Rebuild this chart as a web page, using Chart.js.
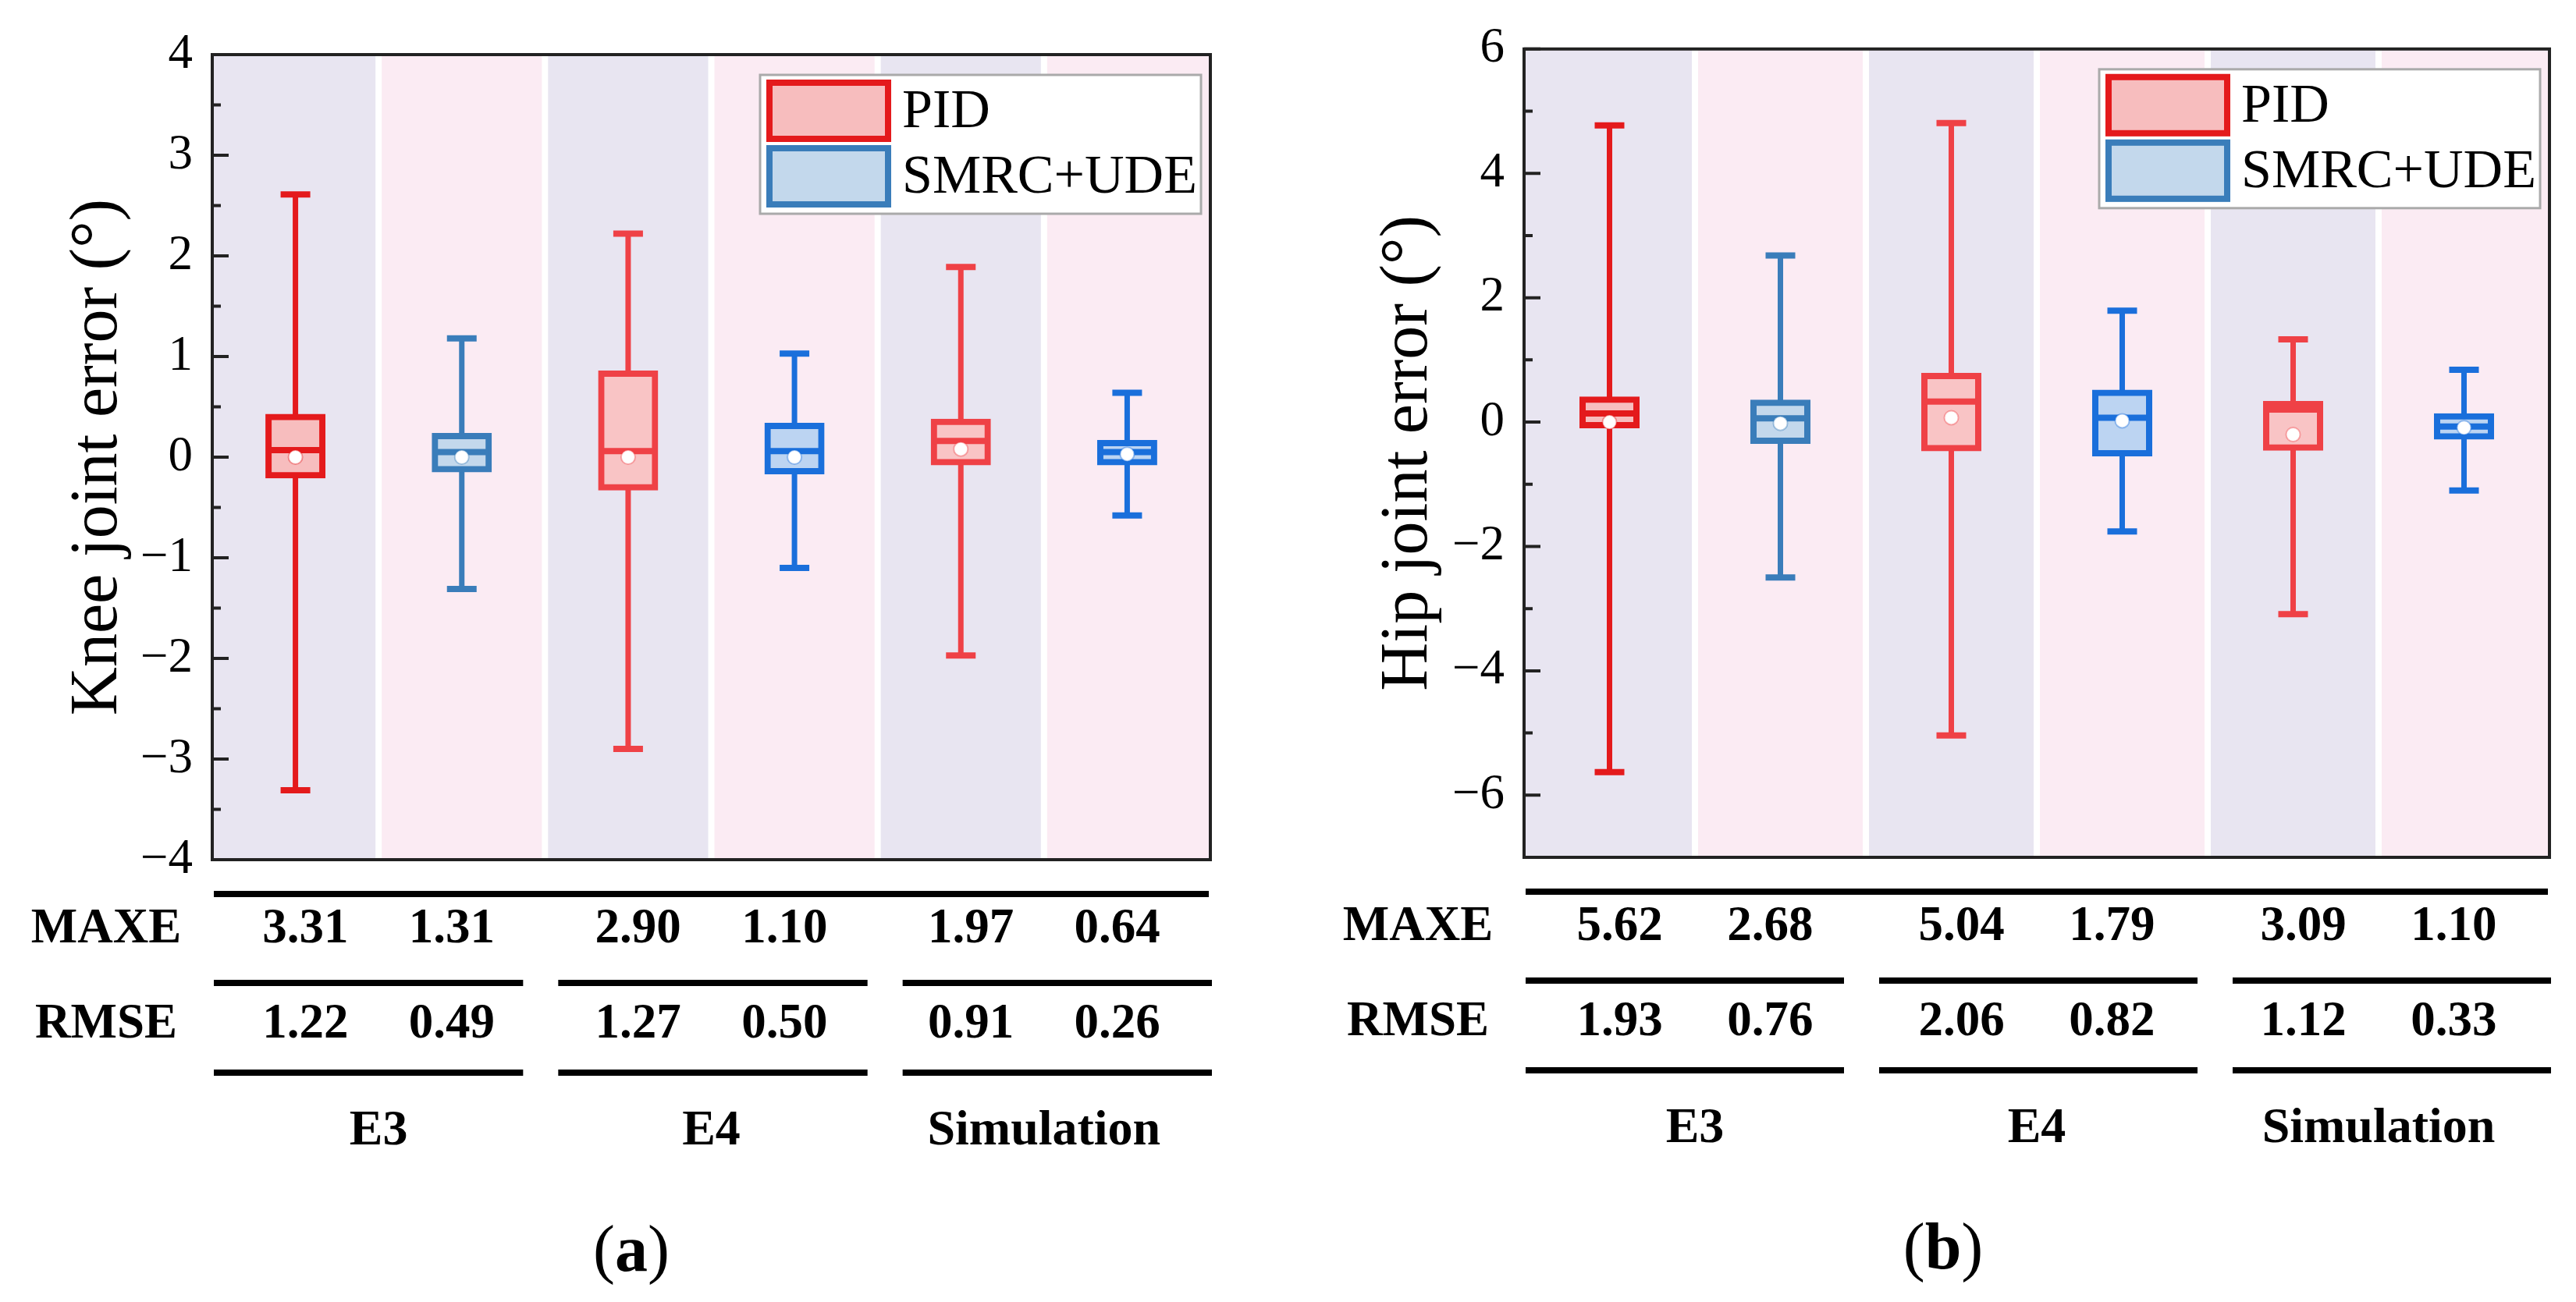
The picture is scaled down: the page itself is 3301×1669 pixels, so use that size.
<!DOCTYPE html>
<html>
<head>
<meta charset="utf-8">
<title>Knee and hip joint error</title>
<script src="https://cdn.jsdelivr.net/npm/chart.js@4.4.1/dist/chart.umd.min.js"></script>
<style>
  html, body { margin: 0; padding: 0; background: #fff; }
  #wrap { position: relative; width: 3301px; height: 1669px; }
  canvas { position: absolute; top: 0; }
</style>
</head>
<body>
<div id="wrap">
  <canvas id="kneeChart" width="1650" height="1669" style="left:0;width:1650px;height:1669px"></canvas>
  <canvas id="hipChart" width="1651" height="1669" style="left:1650px;width:1651px;height:1669px"></canvas>
</div>
<script>
// categories: PID / SMRC+UDE for each experiment
const groups = ['E3', 'E4', 'Simulation'];
const methods = ['PID', 'SMRC+UDE'];
const categories = ['E3 PID', 'E3 SMRC+UDE', 'E4 PID', 'E4 SMRC+UDE', 'Simulation PID', 'Simulation SMRC+UDE'];

// knee joint error (deg)
const kneeMin    = [-3.31, -1.31, -2.90, -1.10, -1.97, -0.58];
const kneeQ1     = [-0.18, -0.12, -0.30, -0.14, -0.05, -0.05];
const kneeMedian = [ 0.07,  0.05,  0.06,  0.06,  0.16,  0.05];
const kneeQ3     = [ 0.40,  0.21,  0.83,  0.31,  0.35,  0.14];
const kneeMax    = [ 2.61,  1.18,  2.22,  1.03,  1.89,  0.64];
const kneeMean   = [ 0.00,  0.00,  0.00,  0.00,  0.08,  0.03];
const kneeMaxe   = ['3.31', '1.31', '2.90', '1.10', '1.97', '0.64'];
const kneeRmse   = ['1.22', '0.49', '1.27', '0.50', '0.91', '0.26'];

// hip joint error (deg)
const hipMin    = [-5.63, -2.50, -5.04, -1.76, -3.09, -1.10];
const hipQ1     = [-0.05, -0.30, -0.42, -0.50, -0.41, -0.23];
const hipMedian = [ 0.14,  0.06,  0.33,  0.07,  0.20, -0.07];
const hipQ3     = [ 0.36,  0.31,  0.74,  0.47,  0.29,  0.09];
const hipMax    = [ 4.77,  2.68,  4.81,  1.79,  1.33,  0.84];
const hipMean   = [ 0.00, -0.02,  0.07,  0.02, -0.20, -0.09];
const hipMaxe   = ['5.62', '2.68', '5.04', '1.79', '3.09', '1.10'];
const hipRmse   = ['1.93', '0.76', '2.06', '0.82', '1.12', '0.33'];

const strokes = ['#e41a1c', '#3a7dba', '#ef4146', '#1a6fdb', '#ef4146', '#1a6fdb'];
const fills   = ['#f7bdbe', '#c3d8ec', '#f9c4c5', '#bcd4f2', '#f9c4c5', '#bcd4f2'];
const legendStroke = ['#e41a1c', '#3a7dba'];
const legendFill   = ['#f7bdbe', '#c3d8ec'];

const SERIF = '"Liberation Serif", "Times New Roman", serif';
Chart.defaults.font.family = SERIF;
Chart.defaults.color = '#000';

function minus(v) {
  return v < 0 ? '\u2212' + Math.abs(v) : String(v);
}

function makeDecor(p) {
  return {
    id: 'boxDecor',
    beforeDatasetsDraw(chart) {
      const { ctx, chartArea: a, scales: { x, y } } = chart;
      const cw = x.getPixelForValue(1) - x.getPixelForValue(0);
      ctx.save();
      // alternating background bands
      categories.forEach((c, i) => {
        const cx = x.getPixelForValue(i);
        let l = cx - cw / 2 + 4, r = cx + cw / 2 - 4;
        if (i === 0) l = a.left;
        if (i === categories.length - 1) r = a.right;
        ctx.fillStyle = i % 2 ? '#fbebf3' : '#e8e5f1';
        ctx.fillRect(l, a.top, r - l, a.bottom - a.top);
      });
      // whiskers + caps
      p.lo.forEach((lo, i) => {
        const cx = x.getPixelForValue(i);
        const yl = y.getPixelForValue(lo), yh = y.getPixelForValue(p.hi[i]);
        ctx.strokeStyle = strokes[i];
        ctx.lineWidth = 7;
        ctx.beginPath();
        ctx.moveTo(cx, yl);
        ctx.lineTo(cx, yh);
        ctx.stroke();
        ctx.lineWidth = 8;
        ctx.beginPath();
        ctx.moveTo(cx - 19, yl); ctx.lineTo(cx + 19, yl);
        ctx.moveTo(cx - 19, yh); ctx.lineTo(cx + 19, yh);
        ctx.stroke();
      });
      ctx.restore();
    },
    afterDatasetDraw(chart, args) {
      if (args.meta.type !== 'bar') return;
      const { ctx, scales: { y } } = chart;
      const data = chart.data.datasets[args.index].data;
      ctx.save();
      args.meta.data.forEach((bar, i) => {
        if (!data[i]) return;
        const { x: bx, width } = bar.getProps(['x', 'width'], true);
        const ym = y.getPixelForValue(p.med[i]);
        ctx.strokeStyle = strokes[i];
        ctx.lineWidth = 8;
        ctx.beginPath();
        ctx.moveTo(bx - width / 2, ym);
        ctx.lineTo(bx + width / 2, ym);
        ctx.stroke();
      });
      ctx.restore();
    },
    afterDraw(chart) {
      const { ctx, chartArea: a, scales: { x, y } } = chart;
      const cw = x.getPixelForValue(1) - x.getPixelForValue(0);
      ctx.save();

      // frame
      ctx.strokeStyle = '#222';
      ctx.lineWidth = 4;
      ctx.strokeRect(a.left, a.top, a.right - a.left, a.bottom - a.top);

      // inward tick marks
      ctx.strokeStyle = '#222';
      ctx.beginPath();
      const n = Math.round((p.max - p.min) / p.minorStep);
      for (let k = 0; k <= n; k++) {
        const v = p.min + k * p.minorStep;
        const major = Math.abs(v / p.majorStep - Math.round(v / p.majorStep)) < 1e-6;
        const yy = y.getPixelForValue(v);
        ctx.moveTo(a.left, yy);
        ctx.lineTo(a.left + (major ? 21 : 11), yy);
      }
      ctx.stroke();

      // legend
      const lw = 565, lh = 178;
      const lx = a.right - 12 - lw, ly = a.top + 26;
      ctx.fillStyle = '#fff';
      ctx.fillRect(lx, ly, lw, lh);
      ctx.strokeStyle = '#aaa';
      ctx.lineWidth = 3;
      ctx.strokeRect(lx, ly, lw, lh);
      methods.forEach((m, k) => {
        const sx = lx + 8, sy = ly + 6 + k * 84, sw = 160, sh = 80;
        ctx.fillStyle = legendFill[k];
        ctx.fillRect(sx, sy, sw, sh);
        ctx.strokeStyle = legendStroke[k];
        ctx.lineWidth = 8;
        ctx.strokeRect(sx + 4, sy + 4, sw - 8, sh - 8);
        ctx.fillStyle = '#000';
        ctx.font = '70px ' + SERIF;
        ctx.textAlign = 'left';
        ctx.textBaseline = 'middle';
        ctx.fillText(m, lx + 182, sy + sh / 2 + 3);
      });

      // statistics table under the plot
      const b = a.bottom;
      ctx.fillStyle = '#000';
      ctx.fillRect(a.left + 2, b + 40, a.right - a.left - 4, 8);
      const gap = 45;
      const segW = (a.right - a.left - 2 * gap) / 3;
      [158, 273].forEach(dy => {
        groups.forEach((g, k) => {
          ctx.fillRect(a.left + 2 + k * (segW + gap), b + dy - 4, segW, 8);
        });
      });
      ctx.textAlign = 'center';
      ctx.textBaseline = 'middle';
      ctx.font = 'bold 63px ' + SERIF;
      const rows = [['MAXE', p.maxe, 90], ['RMSE', p.rmse, 212]];
      rows.forEach(([label, vals, dy]) => {
        ctx.fillText(label, a.left - 136, b + dy);
        vals.forEach((v, i) => {
          const pc = (x.getPixelForValue(i - (i % 2)) + x.getPixelForValue(i - (i % 2) + 1)) / 2;
          const vx = pc + (i % 2 ? 0.44 : -0.44) * cw;
          ctx.fillText(v, vx, b + dy);
        });
      });
      ctx.font = 'bold 64px ' + SERIF;
      groups.forEach((g, k) => {
        const pc = (x.getPixelForValue(2 * k) + x.getPixelForValue(2 * k + 1)) / 2;
        ctx.fillText(g, pc, b + 348);
      });

      // panel caption "(a)" with bold letter
      const capFont = '84px ' + SERIF, capBold = 'bold 84px ' + SERIF;
      ctx.font = capFont;
      const wp = ctx.measureText('(').width, wq = ctx.measureText(')').width;
      ctx.font = capBold;
      const wl = ctx.measureText(p.caption).width;
      let cx = a.left + 537 - (wp + wl + wq) / 2;
      ctx.textAlign = 'left';
      ctx.font = capFont;
      ctx.fillText('(', cx, b + 505);
      ctx.font = capBold;
      ctx.fillText(p.caption, cx + wp, b + 505);
      ctx.font = capFont;
      ctx.fillText(')', cx + wp + wl, b + 505);
      ctx.restore();
    }
  };
}

function renderBoxChart(id, p) {
  const ctx = document.getElementById(id).getContext('2d');
  const pidBoxes  = categories.map((c, i) => i % 2 === 0 ? [p.q1[i], p.q3[i]] : null);
  const smrcBoxes = categories.map((c, i) => i % 2 === 1 ? [p.q1[i], p.q3[i]] : null);
  // box outline centred on the quartile values (border grows 4px outward)
  const boxStyle = {
    backgroundColor: fills,
    borderColor: strokes,
    borderWidth: 8,
    borderSkipped: false,
    inflateAmount: 4,
    barThickness: 69,
    grouped: false,
    order: 1
  };
  return new Chart(ctx, {
    type: 'bar',
    data: {
      labels: categories,
      datasets: [
        {
          label: 'Mean',
          type: 'line',
          data: p.mean,
          showLine: false,
          pointRadius: 9,
          pointBackgroundColor: '#fff',
          pointBorderColor: strokes.map(c => c + '66'),
          pointBorderWidth: 2,
          order: 0
        },
        Object.assign({ label: methods[0], data: pidBoxes }, boxStyle),
        Object.assign({ label: methods[1], data: smrcBoxes }, boxStyle)
      ]
    },
    options: {
      responsive: false,
      animation: false,
      devicePixelRatio: 1,
      events: [],
      layout: { padding: p.padding },
      plugins: {
        legend: { display: false },
        tooltip: { enabled: false }
      },
      scales: {
        x: { display: false, offset: true },
        y: {
          min: p.min,
          max: p.max,
          afterFit: s => { s.width = p.axisWidth; },
          grid: { display: false, drawTicks: false },
          border: { display: false },
          ticks: {
            stepSize: p.minorStep * (p.minorStep < 1 ? 2 : 1),
            padding: 25,
            color: '#000',
            font: { size: 63 },
            callback: v => (Math.abs(v / p.majorStep - Math.round(v / p.majorStep)) < 1e-6 ? minus(v) : '')
          },
          title: {
            display: true,
            text: p.title,
            color: '#000',
            font: { size: 86 },
            padding: { top: p.titlePad, bottom: 0 }
          }
        }
      }
    },
    plugins: [makeDecor(p)]
  });
}

window.kneeChartObj = renderBoxChart('kneeChart', {
  title: 'Knee joint error (\u00b0)',
  caption: 'a',
  lo: kneeMin, q1: kneeQ1, med: kneeMedian, q3: kneeQ3, hi: kneeMax, mean: kneeMean,
  maxe: kneeMaxe, rmse: kneeRmse,
  min: -4, max: 4, majorStep: 1, minorStep: 0.5,
  axisWidth: 272, titlePad: 75,
  padding: { top: 70, right: 99, bottom: 567, left: 0 }
});

window.hipChartObj = renderBoxChart('hipChart', {
  title: 'Hip joint error (\u00b0)',
  caption: 'b',
  lo: hipMin, q1: hipQ1, med: hipMedian, q3: hipQ3, hi: hipMax, mean: hipMean,
  maxe: hipMaxe, rmse: hipRmse,
  min: -7, max: 6, majorStep: 2, minorStep: 1,
  axisWidth: 303, titlePad: 104,
  padding: { top: 49, right: 34, bottom: 570, left: 0 }
});
</script>
</body>
</html>
